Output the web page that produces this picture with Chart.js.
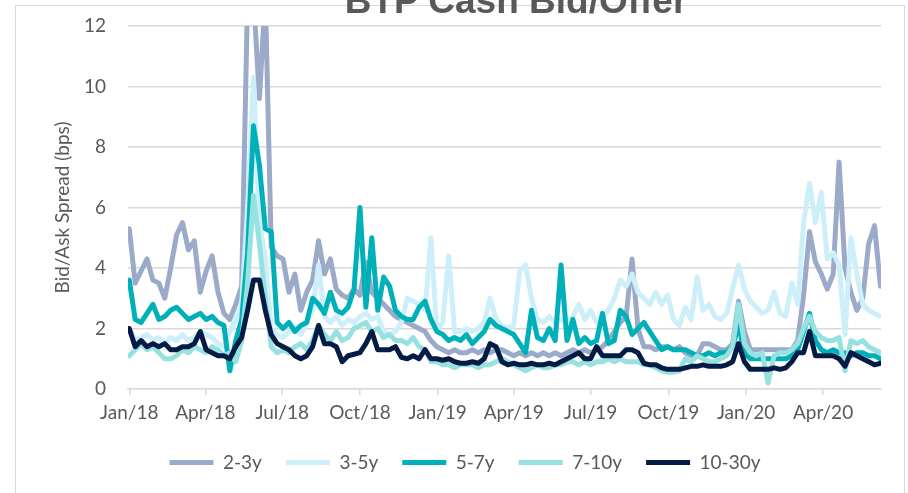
<!DOCTYPE html>
<html><head><meta charset="utf-8">
<script src="https://cdn.jsdelivr.net/npm/chart.js@4.4.1/dist/chart.umd.min.js"></script>
<style>
html,body{margin:0;padding:0;background:#fff;overflow:hidden;width:908px;height:493px;}
#wrap{position:relative;width:908px;height:493px;overflow:hidden;}
#frame{position:absolute;left:15px;top:5px;width:890px;height:600px;border:1.5px solid #D9D9D9;box-sizing:border-box;}
#title{position:absolute;left:0;width:1032px;text-align:center;top:-17px;font:bold 37px 'Liberation Sans',Arial,sans-serif;color:#595959;line-height:36px;white-space:nowrap;}
canvas{position:absolute;left:0;top:0;}
</style></head>
<body>
<div id="wrap">
  <div id="frame"></div>
  <canvas id="c" width="908" height="493"></canvas>
  <div id="title">BTP Cash Bid/Offer</div>
</div>
<script>
// ---- data (weekly observations starting on the first date) ----
const firstDate = '2018-01-01';
const stepDays = 7;
const seriesNames = ['2-3y', '3-5y', '5-7y', '7-10y', '10-30y'];
const tickDates = ['2018-01-01','2018-04-01','2018-07-01','2018-10-01','2019-01-01','2019-04-01','2019-07-01','2019-10-01','2020-01-01','2020-04-01'];
const tickLabels = ['Jan/18','Apr/18','Jul/18','Oct/18','Jan/19','Apr/19','Jul/19','Oct/19','Jan/20','Apr/20'];

const s2_3y = [5.3,3.5,3.9,4.3,3.6,3.5,3.0,4.0,5.1,5.5,
 4.6,4.9,3.2,3.9,4.4,3.2,2.5,2.3,2.8,3.4,
 13,13,9.6,13,4.7,4.4,4.3,3.2,3.8,2.6,
 3.2,3.6,4.9,3.8,4.3,3.3,3.1,3.0,3.3,3.1,
 4.2,3.2,3.0,2.8,2.6,2.4,2.3,2.2,2.1,2.0,
 1.9,1.6,1.4,1.3,1.2,1.3,1.2,1.2,1.3,1.2,
 1.3,1.2,1.3,1.3,1.2,1.1,1.2,1.1,1.2,1.1,
 1.2,1.1,1.2,1.1,1.2,1.3,1.2,1.3,1.2,1.3,
 1.4,1.6,1.9,2.2,2.4,4.3,2.0,1.4,1.4,1.3,
 1.4,1.4,1.3,1.4,1.2,1.1,1.1,1.5,1.5,1.4,
 1.3,1.3,1.5,2.9,1.9,1.3,1.3,1.3,1.3,1.3,
 1.3,1.3,1.3,1.6,3.1,5.2,4.2,3.8,3.3,3.8,
 7.5,4.0,3.2,2.6,3.0,4.8,5.4,3.4];

const s3_5y = [2.0,1.6,1.7,1.8,1.6,1.7,1.5,1.7,1.6,1.8,
 1.6,1.7,1.9,1.8,1.7,1.5,1.4,1.9,2.3,2.8,
 6.0,10.3,5.5,4.3,2.0,1.8,1.7,1.9,2.0,1.8,
 2.2,2.6,4.1,2.4,2.2,2.4,2.1,2.3,2.2,2.4,
 2.5,2.3,2.4,1.9,1.8,1.9,2.2,3.0,2.9,2.8,
 2.6,5.0,1.9,2.2,4.4,1.9,1.9,2.0,1.9,2.0,
 2.2,3.0,2.3,2.1,2.0,2.1,3.9,4.1,3.0,2.3,
 2.2,2.4,2.2,2.3,2.2,2.4,2.8,2.3,2.6,2.2,
 2.4,2.6,3.0,3.6,3.4,3.8,3.2,3.0,2.8,3.2,
 2.8,3.1,2.3,2.1,2.7,2.3,3.7,2.6,2.8,2.4,
 2.3,2.5,3.3,4.1,3.3,2.9,2.7,2.5,2.6,3.2,
 2.5,2.4,3.5,2.8,5.5,6.8,5.5,6.5,4.3,4.5,
 4.1,1.8,5.0,3.8,2.8,2.6,2.5,2.4];

const s5_7y = [3.6,2.3,2.2,2.5,2.8,2.3,2.4,2.6,2.7,2.5,
 2.3,2.4,2.5,2.3,2.4,2.2,2.1,0.6,1.6,2.3,
 4.5,8.7,7.4,5.3,5.2,2.2,2.0,2.2,1.9,2.1,
 2.2,3.0,2.8,2.5,3.2,2.6,2.5,2.7,3.3,6.0,
 2.7,5.0,2.6,3.7,3.4,2.6,2.4,2.3,2.3,2.7,
 2.9,2.3,1.9,1.8,1.6,1.7,1.6,1.8,1.5,1.7,
 1.9,2.3,2.1,2.0,1.9,1.8,1.5,1.2,2.6,1.7,
 1.6,2.0,1.6,4.1,1.6,2.3,1.5,1.7,1.5,1.6,
 2.5,1.5,1.6,2.6,2.4,1.8,2.0,2.2,1.9,1.6,
 1.3,1.4,1.3,1.3,1.3,1.2,1.1,1.1,1.2,1.1,
 1.2,1.2,1.4,2.1,1.2,1.0,1.0,1.0,1.0,1.0,
 1.0,1.0,1.1,1.3,1.9,2.5,1.6,1.3,1.2,1.3,
 1.2,1.2,1.1,1.2,1.2,1.1,1.1,1.0];

const s7_10y = [1.1,1.3,1.5,1.3,1.4,1.2,1.0,1.0,1.1,1.3,
 1.2,1.4,1.3,1.2,1.4,1.3,1.1,1.2,0.9,1.6,
 3.5,6.4,4.8,3.0,1.4,1.2,1.3,1.2,1.4,1.5,
 1.3,1.6,2.1,1.8,1.6,1.9,1.6,1.7,2.0,2.1,
 2.2,1.9,2.0,1.7,1.8,1.6,1.6,1.5,1.7,1.4,
 1.3,0.9,0.9,0.8,0.8,0.7,0.8,0.8,0.8,0.7,
 0.8,0.8,0.9,1.0,0.9,0.8,0.7,0.6,0.7,0.8,
 0.7,0.7,0.8,0.8,0.9,0.9,0.8,0.9,0.8,0.9,
 0.9,1.0,0.9,1.0,0.9,0.9,0.9,0.8,0.8,0.7,
 0.6,0.55,0.55,0.6,1.0,0.9,1.1,1.0,0.9,0.9,
 1.0,1.1,1.4,2.8,1.5,1.2,1.1,1.2,0.2,1.1,
 1.2,1.2,1.3,1.5,2.0,2.4,1.9,1.7,1.6,1.6,
 1.7,0.6,1.6,1.5,1.6,1.4,1.3,1.2];

const s10_30y = [2.0,1.4,1.6,1.4,1.5,1.4,1.5,1.3,1.3,1.4,
 1.4,1.5,1.9,1.3,1.2,1.1,1.1,1.0,1.4,1.7,
 2.6,3.6,3.6,2.6,1.8,1.5,1.4,1.3,1.1,1.0,
 1.1,1.4,2.1,1.5,1.5,1.4,0.9,1.1,1.15,1.2,
 1.5,1.9,1.3,1.3,1.3,1.4,1.05,1.0,1.1,1.0,
 1.3,1.0,1.0,0.95,1.0,0.9,0.85,0.85,0.9,0.85,
 1.0,1.5,1.4,0.9,0.8,0.85,0.8,0.8,0.85,0.8,
 0.8,0.85,0.8,0.9,1.0,1.1,1.2,1.0,1.0,1.4,
 1.1,1.1,1.1,1.1,1.3,1.3,1.2,0.85,0.8,0.8,
 0.7,0.65,0.65,0.65,0.7,0.75,0.75,0.8,0.75,0.75,
 0.75,0.8,0.9,1.5,0.9,0.65,0.65,0.65,0.65,0.7,
 0.65,0.7,0.9,1.2,1.2,1.9,1.1,1.1,1.1,1.1,
 1.0,0.75,1.2,1.1,1.0,0.9,0.8,0.85];

// ---- build ----
const DAY = 86400000;
const t0 = Date.parse(firstDate + 'T00:00:00Z');
const toDay = d => Math.round((Date.parse(d + 'T00:00:00Z') - t0) / DAY);
const tickDays = tickDates.map(toDay);
const allSeries = [s2_3y, s3_5y, s5_7y, s7_10y, s10_30y];
const colors = ['#9AAAC8', '#CDEFF9', '#00B0B9', '#97E1E1', '#041C45'];

const datasets = allSeries.map((vals, k) => ({
  label: seriesNames[k],
  data: vals.map((v, i) => ({x: i * stepDays, y: v})),
  borderColor: colors[k],
  backgroundColor: colors[k],
  borderWidth: 5,
  pointRadius: 0,
  pointHoverRadius: 0,
  tension: 0,
  borderJoinStyle: 'round',
  borderCapStyle: 'round',
  fill: false,
  order: allSeries.length - 1 - k
}));

const txt = '#595959';
const fnt = {family: 'Lato, "Open Sans", sans-serif', size: 19};

new Chart(document.getElementById('c'), {
  type: 'line',
  data: {datasets},
  options: {
    responsive: false,
    animation: false,
    devicePixelRatio: 1,
    layout: {padding: {left: 22, right: 0, top: 26, bottom: 11}},
    plugins: {
      title: {display: false},
      tooltip: {enabled: false},
      legend: {
        position: 'bottom',
        labels: {
          usePointStyle: true,
          pointStyle: 'line',
          pointStyleWidth: 44,
          padding: 24,
          color: txt,
          font: fnt,
          sort: (a, b) => a.datasetIndex - b.datasetIndex
        }
      }
    },
    scales: {
      x: {
        type: 'linear',
        min: -1.5,
        max: 889.6,
        afterBuildTicks: s => { s.ticks = tickDays.map(v => ({value: v})); },
        afterFit: s => { s.height = 40; },
        ticks: {
          autoSkip: false, maxRotation: 0, minRotation: 0,
          color: txt, font: fnt, padding: 6,
          callback: (v) => { const j = tickDays.indexOf(v); return j >= 0 ? tickLabels[j] : ''; }
        },
        grid: {drawOnChartArea: false, drawTicks: true, tickLength: 6, color: '#D9D9D9', lineWidth: 1.5},
        border: {display: true, color: '#D9D9D9', width: 1.5}
      },
      y: {
        position: 'left',
        min: 0, max: 12,
        afterFit: s => { s.width = 106; s.paddingTop = 0; s.paddingBottom = 0; },
        ticks: {stepSize: 2, color: txt, font: fnt, padding: 22},
        grid: {color: '#D9D9D9', lineWidth: 1.5, drawTicks: false},
        border: {display: false},
        title: {display: true, text: 'Bid/Ask Spread (bps)', color: txt, font: fnt, padding: {top: 29.6, bottom: 0}}
      },
      yr: {
        position: 'right',
        display: true,
        afterFit: s => { s.width = 27; s.paddingTop = 0; s.paddingBottom = 0; },
        ticks: {display: false},
        grid: {display: false, drawTicks: false},
        border: {display: false}
      }
    }
  }
});
</script>
</body></html>
